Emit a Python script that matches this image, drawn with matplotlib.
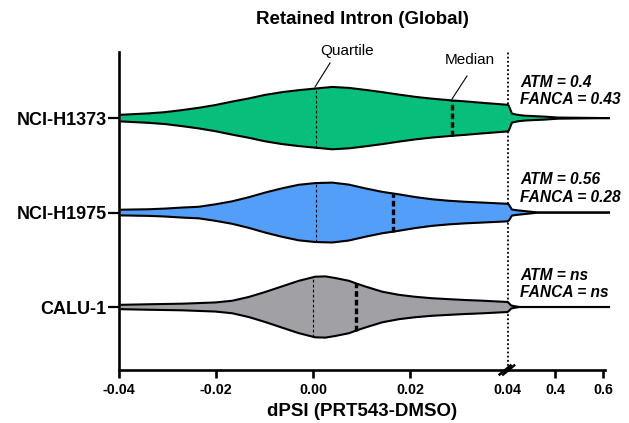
import numpy as np
import matplotlib
matplotlib.use("Agg")
import matplotlib.pyplot as plt
from matplotlib.lines import Line2D

plt.rcParams["font.family"] = ["Liberation Sans", "DejaVu Sans"]

# ============================
# DATA
# ============================
cell_lines = ["CALU-1", "NCI-H1975", "NCI-H1373"]
colors = ["#A1A0A5", "#529EF9", "#07BF7A"]

# violin half-widths (row units) along dPSI, main segment -0.04 .. 0.04
x_h1373 = [-0.0397, -0.0339, -0.0305, -0.0270, -0.0236, -0.0202, -0.0167, -0.0133,
           -0.0099, -0.0064, -0.0030, 0.0004, 0.0039, 0.0073, 0.0107, 0.0142,
           0.0176, 0.0210, 0.0244, 0.0286, 0.0313, 0.0347, 0.0400]
w_h1373 = [0.035, 0.050, 0.063, 0.085, 0.109, 0.138, 0.175, 0.208, 0.246, 0.275,
           0.296, 0.313, 0.330, 0.320, 0.299, 0.275, 0.249, 0.225, 0.206, 0.187,
           0.177, 0.162, 0.141]

x_h1975 = [-0.0397, -0.0339, -0.0305, -0.0270, -0.0236, -0.0202, -0.0167, -0.0133,
           -0.0099, -0.0064, -0.0030, 0.0004, 0.0039, 0.0073, 0.0107, 0.0142,
           0.0176, 0.0210, 0.0244, 0.0279, 0.0313, 0.0347, 0.0400]
w_h1975 = [0.030, 0.035, 0.042, 0.053, 0.061, 0.087, 0.119, 0.162, 0.212, 0.257,
           0.294, 0.312, 0.317, 0.296, 0.256, 0.219, 0.193, 0.164, 0.141, 0.125,
           0.114, 0.106, 0.093]

x_calu1 = [-0.0397, -0.0339, -0.0270, -0.0202, -0.0167, -0.0133, -0.0099, -0.0064,
           -0.0030, 0.0004, 0.0025, 0.0045, 0.0073, 0.0087, 0.0107, 0.0142,
           0.0176, 0.0210, 0.0244, 0.0279, 0.0313, 0.0347, 0.0400]
w_calu1 = [0.023, 0.029, 0.035, 0.048, 0.066, 0.106, 0.159, 0.219, 0.277, 0.321,
           0.324, 0.307, 0.278, 0.252, 0.217, 0.162, 0.129, 0.108, 0.093, 0.083,
           0.074, 0.067, 0.053]

# tails after the axis break (0.2 .. 0.6)
xt_h1373 = [0.200, 0.205, 0.218, 0.24, 0.27, 0.31, 0.36, 0.41, 0.625]
wt_h1373 = [0.141, 0.132, 0.048, 0.035, 0.026, 0.021, 0.015, 0.006, 0.0]
xt_h1975 = [0.200, 0.205, 0.218, 0.24, 0.27, 0.30, 0.33, 0.625]
wt_h1975 = [0.093, 0.085, 0.032, 0.024, 0.016, 0.008, 0.0, 0.0]
xt_calu1 = [0.200, 0.205, 0.215, 0.23, 0.25, 0.625]
wt_calu1 = [0.053, 0.042, 0.016, 0.008, 0.0, 0.0]

main_x = [x_calu1, x_h1975, x_h1373]
main_w = [w_calu1, w_h1975, w_h1373]
tail_x = [xt_calu1, xt_h1975, xt_h1373]
tail_w = [wt_calu1, wt_h1975, wt_h1373]

medians = [0.0087, 0.0165, 0.0286]
quartiles = [0.0, 0.0005, 0.0005]

stats_atm = ["ns", "0.56", "0.4"]
stats_fanca = ["ns", "0.28", "0.43"]

main_ticks = [-0.04, -0.02, 0.00, 0.02, 0.04]
main_ticklabels = ["-0.04", "-0.02", "0.00", "0.02", "0.04"]
tail_ticks = [0.4, 0.6]
tail_ticklabels = ["0.4", "0.6"]

# ============================
# FIGURE / AXES
# ============================
W, H = 629, 423
fig = plt.figure(figsize=(W / 100, H / 100), dpi=100)

x0, xb, x1 = 119, 507.6, 605.4
ytop, ybot = 52, 370
ax1 = fig.add_axes([x0 / W, 1 - ybot / H, (xb - x0) / W, (ybot - ytop) / H])
ax2 = fig.add_axes([xb / W, 1 - ybot / H, (x1 - xb) / W, (ybot - ytop) / H], sharey=ax1)

ax1.set_xlim(-0.04, 0.04)
ax2.set_xlim(0.2, 0.61)
ax1.set_ylim(-0.667, 2.70)

for i in range(3):
    xm = np.array(main_x[i])
    wm = np.array(main_w[i])
    ax1.fill_between(xm, i - wm, i + wm, color=colors[i], lw=0, zorder=2)
    ax1.plot(xm, i + wm, color="black", lw=1.5, zorder=3, solid_capstyle="butt")
    ax1.plot(xm, i - wm, color="black", lw=1.5, zorder=3, solid_capstyle="butt")

    xt = np.array(tail_x[i])
    wt = np.array(tail_w[i])
    ax2.fill_between(xt, i - wt, i + wt, color=colors[i], lw=0, zorder=2, clip_on=False)
    ax2.plot(xt, i + wt, color="black", lw=1.5, zorder=3, clip_on=False)
    ax2.plot(xt, i - wt, color="black", lw=1.5, zorder=3, clip_on=False)

    # median (thick dashed) and quartile (thin dotted)
    hm = np.interp(medians[i], xm, wm)
    ax1.plot([medians[i]] * 2, [i - hm, i + hm], color="black", lw=2.4,
             ls=(0, (1.7, 0.9)), zorder=4)
    hq = np.interp(quartiles[i], xm, wm)
    ax1.plot([quartiles[i]] * 2, [i - hq, i + hq], color="black", lw=0.8,
             ls=(0, (2.5, 2)), zorder=4)

# dotted reference line at the break
ax1.axvline(0.04, color="black", lw=1.3, ls=(0, (1, 1.3)), clip_on=False, zorder=1)

# spines and ticks
for sp in ["top", "right"]:
    ax1.spines[sp].set_visible(False)
for sp in ["top", "right", "left"]:
    ax2.spines[sp].set_visible(False)
for ax in (ax1, ax2):
    ax.spines["bottom"].set_linewidth(1.9)
    ax.patch.set_alpha(0)
ax1.spines["left"].set_linewidth(1.9)

ax1.set_yticks(range(3))
ax1.set_yticklabels(cell_lines, fontsize=13, fontweight="bold")
ax1.tick_params(axis="y", length=8, width=1.6, pad=1)
ax2.tick_params(axis="y", left=False, labelleft=False)

ax1.set_xticks(main_ticks)
ax1.set_xticklabels(main_ticklabels, fontsize=10.3, fontweight="bold")
ax2.set_xticks(tail_ticks)
ax2.set_xticklabels(tail_ticklabels, fontsize=10.3, fontweight="bold")
for ax in (ax1, ax2):
    ax.tick_params(axis="x", length=6, width=1.9, pad=3)
ax1.xaxis.get_major_ticks()[-1].tick1line.set_visible(False)

# axis-break slashes
for dx in (-2.0, 1.5):
    fig.add_artist(Line2D([(xb - 6 + dx) / W, (xb + 5 + dx) / W],
                          [1 - (ybot + 4.5) / H, 1 - (ybot - 4.5) / H],
                          color="black", lw=1.8))

# annotations
fig.text(346.7 / W, 1 - 51.5 / H, "Quartile", fontsize=11, ha="center", va="center")
fig.add_artist(Line2D([315 / W, 330 / W], [1 - 87 / H, 1 - 63 / H], color="black", lw=0.8))
fig.text(470 / W, 1 - 60.5 / H, "Median", fontsize=11, ha="center", va="center")
fig.add_artist(Line2D([452 / W, 467 / W], [1 - 99 / H, 1 - 76 / H], color="black", lw=0.8))

row_px = [275, 180, 82.5]
for i in range(3):
    fig.text(520 / W, 1 - row_px[i] / H, f"ATM = {stats_atm[i]}", fontsize=11.2,
             fontweight="bold", fontstyle="italic", ha="left", va="center")
    fig.text(520 / W, 1 - (row_px[i] + 17.5) / H, f"FANCA = {stats_fanca[i]}", fontsize=11.2,
             fontweight="bold", fontstyle="italic", ha="left", va="center")

fig.text(362 / W, 1 - 20 / H, "Retained Intron (Global)", fontsize=13.5,
         fontweight="bold", ha="center", va="center")
fig.text(362 / W, 1 - 411 / H, "dPSI (PRT543-DMSO)", fontsize=13.5,
         fontweight="bold", ha="center", va="center")

fig.savefig("out.png", dpi=100)
